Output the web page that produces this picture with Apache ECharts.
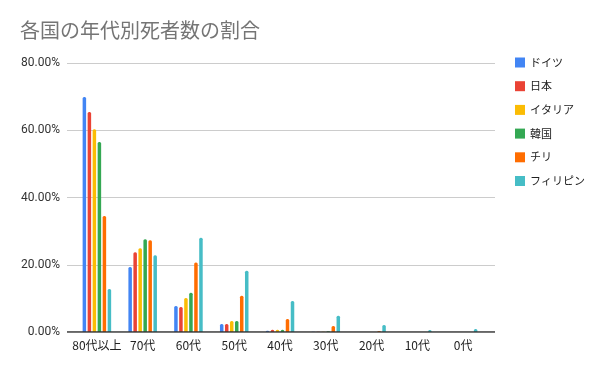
<!DOCTYPE html>
<html><head><meta charset="utf-8">
<script src="https://cdn.jsdelivr.net/npm/echarts@6/dist/echarts.min.js"></script>
<style>html,body{margin:0;padding:0;background:#fff}#c{width:600px;height:371px}</style>
</head><body><div id="c"></div>
<script>
const categories = ['80代以上','70代','60代','50代','40代','30代','20代','10代','0代'];
const seriesNames = ['ドイツ','日本','イタリア','韓国','チリ','フィリピン'];
const germany     = [69.9, 19.3, 7.7, 2.4, 0.4, 0.1, 0.0, 0.0, 0.0];
const japan       = [65.4, 23.7, 7.4, 2.4, 0.7, 0.1, 0.0, 0.0, 0.0];
const italy       = [60.3, 24.9, 10.1, 3.3, 0.7, 0.1, 0.0, 0.0, 0.0];
const korea       = [56.5, 27.6, 11.7, 3.3, 0.7, 0.2, 0.0, 0.0, 0.0];
const chile       = [34.5, 27.3, 20.7, 10.8, 3.9, 1.8, 0.3, 0.0, 0.0];
const philippines = [12.8, 22.8, 28.0, 18.2, 9.2, 4.8, 2.1, 0.6, 0.9];
const yTicks = [0, 20, 40, 60, 80];
const colors = ['#4285F4','#EA4335','#FBBC04','#34A853','#FF6D01','#46BDC6'];
const allData = [germany, japan, italy, korea, chile, philippines];

const jp = "'Noto Sans CJK JP', sans-serif";
const font = "Roboto, 'Noto Sans CJK JP', sans-serif";
const chart = echarts.init(document.getElementById('c'));
chart.setOption({
  animation: false,
  title: {text: '各国の年代別死者数の割合', left: 15, top: 15,
    textStyle: {fontFamily: jp, fontSize: 20, fontWeight: 'normal', color: '#757575'}},
  legend: {orient: 'vertical', left: 510, top: 52, itemWidth: 10, itemHeight: 10, itemGap: 12.7,
    icon: 'rect', data: seriesNames, itemStyle: {borderWidth: 0},
    textStyle: {fontFamily: jp, fontSize: 11, color: '#222'}},
  grid: [
    {left: 67, right: 105, top: 63, bottom: 39},
    {left: 74, right: 114, top: 63, bottom: 39}
  ],
  xAxis: [
    {type: 'value', gridIndex: 0, min: 0, max: 1, show: true,
      axisLine: {show: false}, axisTick: {show: false}, axisLabel: {show: false}, splitLine: {show: false}},
    {type: 'category', gridIndex: 1, data: categories,
      axisLine: {show: false}, axisTick: {show: false},
      axisLabel: {interval: 0, fontFamily: jp, fontSize: 12, color: '#222', margin: 7}}
  ],
  yAxis: [
    {type: 'value', gridIndex: 0, min: 0, max: 80, interval: 20,
      axisLine: {show: false}, axisTick: {show: false},
      splitLine: {lineStyle: {color: '#cccccc'}},
      axisLabel: {fontFamily: font, fontSize: 12, color: '#333', margin: 7,
        formatter: v => yTicks.includes(v) ? v.toFixed(2) + '%' : ''}},
    {type: 'value', gridIndex: 1, min: 0, max: 80, interval: 20, show: false, splitLine: {show: false}}
  ],
  series: [
    {type: 'line', xAxisIndex: 0, yAxisIndex: 0, data: [[0, 0], [1, 0]], symbol: 'none',
      lineStyle: {color: '#333', width: 1.5}, itemStyle: {color: '#333'}, silent: true, z: 5}
  ].concat(seriesNames.map((n, i) => ({
    name: n, type: 'bar', xAxisIndex: 1, yAxisIndex: 1, data: allData[i], barWidth: 3.5, barGap: '43%',
    itemStyle: {color: colors[i], borderRadius: [1.5, 1.5, 0, 0]}, z: 2
  })))
});
</script></body></html>
